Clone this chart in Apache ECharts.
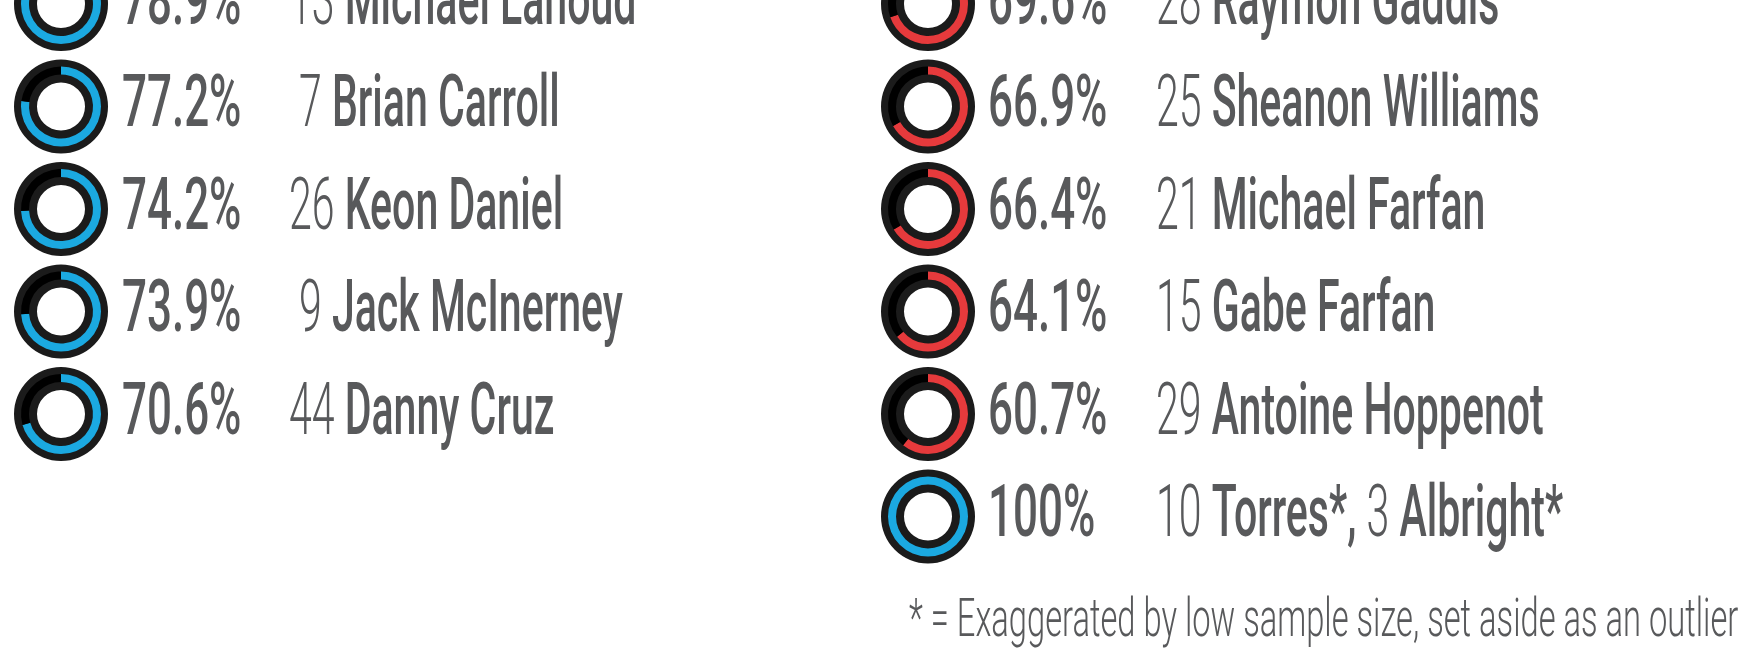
<!DOCTYPE html>
<html>
<head>
<meta charset="utf-8">
<title>Shot conversion rings</title>
<script src="https://cdn.jsdelivr.net/npm/echarts@6.0.0/dist/echarts.min.js"></script>
<style>
  html, body { margin: 0; padding: 0; background: #fff; }
  #chart { width: 1743px; height: 672px; }
</style>
</head>
<body>
<div id="chart"></div>
<script>
// left column: players at or above 70%
const leftPct = [78.9, 77.2, 74.2, 73.9, 70.6]
const leftNums = [[13], [7], [26], [9], [44]]
const leftNames = [['Michael Lahoud'], ['Brian Carroll'], ['Keon Daniel'], ['Jack McInerney'], ['Danny Cruz']]

// right column: below 70%, plus the outliers
const rightPct = [69.6, 66.9, 66.4, 64.1, 60.7, 100]
const rightNums = [[28], [25], [21], [15], [29], [10, 3]]
const rightNames = [
  ['Raymon Gaddis'], ['Sheanon Williams'], ['Michael Farfan'],
  ['Gabe Farfan'], ['Antoine Hoppenot'], ['Torres*', 'Albright*'],
]

const footnote = '* = Exaggerated by low sample size, set aside as an outlier'

const THRESHOLD = 70
const BLUE = '#1ba9e1'
const RED = '#e63a3c'
const TEXT = '#58595b'
const FONT = 'Roboto, "Liberation Sans", sans-serif'
const SIZE = 72

const rowY = (i) => 4 + i * 102.5
const columns = [
  { pct: leftPct, nums: leftNums, names: leftNames, ringX: 61, pctX: 122, nameX: 289 },
  { pct: rightPct, nums: rightNums, names: rightNames, ringX: 928, pctX: 988, nameX: 1156 },
]

const series = []
const graphics = []

columns.forEach((col) => {
  col.pct.forEach((v, i) => {
    const cy = rowY(i)
    const center = [col.ringX, cy]
    series.push({
      type: 'pie',
      center,
      radius: [24, 47],
      silent: true,
      label: { show: false },
      labelLine: { show: false },
      data: [{ value: 1, itemStyle: { color: '#1b1b1b' } }],
    })
    series.push({
      type: 'pie',
      center,
      radius: [32, 40],
      startAngle: 90,
      clockwise: true,
      silent: true,
      label: { show: false },
      labelLine: { show: false },
      data: [
        { value: v, itemStyle: { color: v >= THRESHOLD ? BLUE : RED } },
        { value: 100 - v, itemStyle: { color: '#000' } },
      ],
    })

    graphics.push({
      type: 'text',
      x: col.pctX,
      y: cy + 1.5,
      scaleX: 0.61,
      silent: true,
      style: {
        text: (v === 100 ? '100' : v.toFixed(1)) + '%',
        fontFamily: FONT,
        fontSize: SIZE,
        fontWeight: 500,
        fill: TEXT,
        verticalAlign: 'middle',
      },
    })

    const parts = col.nums[i].map((n, k) => {
      const num = n < 10 && k === 0 ? ' ' + n : String(n)
      return `{n|${num}} {b|${col.names[i][k]}}`
    })
    graphics.push({
      type: 'text',
      x: col.nameX,
      y: cy + 1.5,
      scaleX: 0.57,
      silent: true,
      style: {
        text: parts.join('{b|,} '),
        fontFamily: FONT,
        fontSize: SIZE,
        fill: TEXT,
        verticalAlign: 'middle',
        rich: {
          n: { fontFamily: FONT, fontSize: SIZE, fontWeight: 300, fill: TEXT },
          b: { fontFamily: FONT, fontSize: SIZE, fontWeight: 500, fill: TEXT },
        },
      },
    })
  })
})

graphics.push({
  type: 'text',
  x: 909,
  y: 622,
  scaleX: 0.605,
  silent: true,
  style: {
    text: footnote,
    fontFamily: FONT,
    fontSize: 54,
    fontWeight: 300,
    fill: TEXT,
    verticalAlign: 'middle',
  },
})

const chart = echarts.init(document.getElementById('chart'))
chart.setOption({
  animation: false,
  backgroundColor: '#fff',
  series,
  graphic: { elements: graphics },
})
</script>
</body>
</html>
